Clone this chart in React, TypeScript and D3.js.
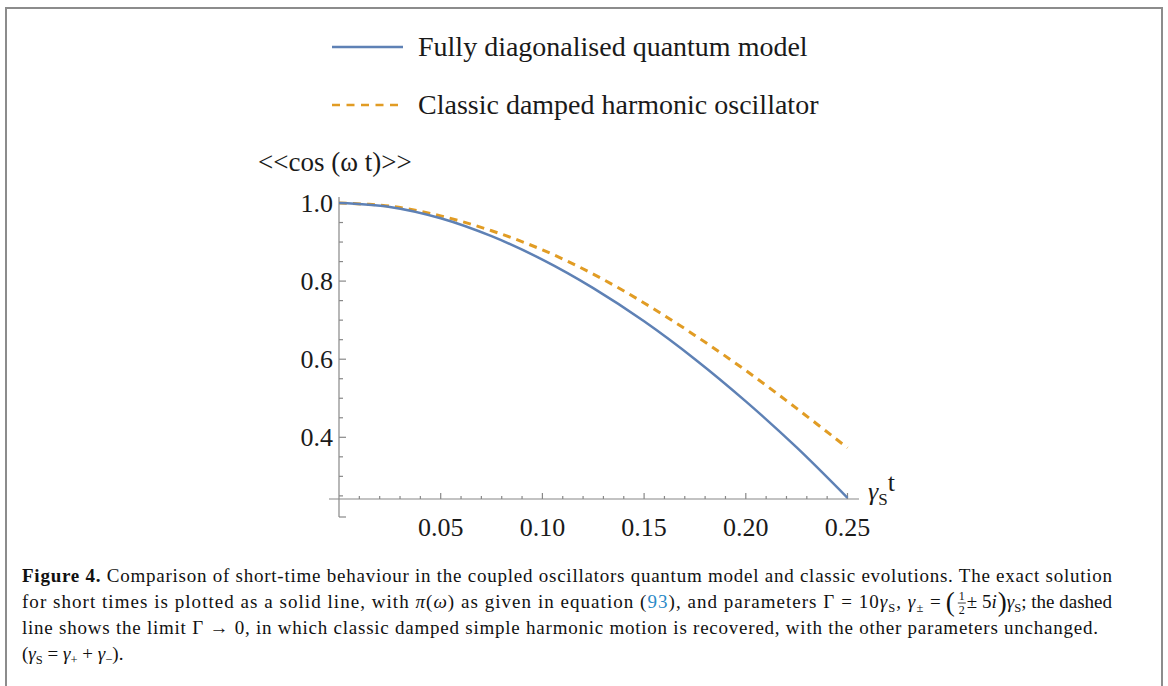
import React, {useEffect, useRef} from 'react'
import * as d3 from 'd3';

// time axis (gamma_S t) and the two curves
const times = [0, 0.025, 0.05, 0.075, 0.1, 0.125, 0.15, 0.175, 0.2, 0.225, 0.25];
const quantumValues = [1.0, 0.990, 0.961, 0.915, 0.855, 0.782, 0.697, 0.600, 0.492, 0.374, 0.245];
const classicValues = [1.0, 0.992, 0.967, 0.929, 0.880, 0.818, 0.744, 0.661, 0.571, 0.474, 0.373];

const xMajorTicks = [0.05, 0.10, 0.15, 0.20, 0.25];
const xTickLabels = ['0.05', '0.10', '0.15', '0.20', '0.25'];
const yMajorTicks = [0.4, 0.6, 0.8, 1.0];
const yTickLabels = ['0.4', '0.6', '0.8', '1.0'];

const legendLabels = ['Fully diagonalised quantum model', 'Classic damped harmonic oscillator'];

const BLUE = '#5e81b5';
const ORANGE = '#e19c24';
const AXIS = '#888888';
const SERIF = '"Liberation Serif", "Times New Roman", serif';

type Seg = {t: string, italic?: boolean, sub?: boolean, color?: string, bold?: boolean};

// appends a run of text made of segments (subscripts as smaller, lowered tspans)
function addRun(parent: any, x: number, y: number, segs: Seg[]){
    const txt = parent.append('text').attr('x', x).attr('y', y);
    let lowered = false;
    segs.forEach(s => {
        const ts = txt.append('tspan').text(s.t);
        if (s.italic) ts.attr('font-style', 'italic');
        if (s.bold) ts.attr('font-weight', 'bold');
        if (s.color) ts.attr('fill', s.color);
        if (s.sub){
            ts.attr('font-size', 12.5);
            if (!lowered) ts.attr('dy', 4);
            lowered = true;
        } else if (lowered){
            ts.attr('dy', -4);
            lowered = false;
        }
    });
    return txt;
}

export default function App(){
    const svgRef = useRef<SVGSVGElement>(null);

    useEffect(() => {
        const svg = d3.select(svgRef.current);
        svg.selectAll('*').remove();

        const x = d3.scaleLinear().domain([0, 0.25]).range([339, 847.5]);
        const y = d3.scaleLinear().domain([0.242, 1.0]).range([499, 203]);

        // figure frame
        svg.append('rect')
            .attr('x', 6).attr('y', 8)
            .attr('width', 1156).attr('height', 700)
            .attr('fill', 'none')
            .attr('stroke', '#8c8c8c')
            .attr('stroke-width', 2);

        // legend
        const legend = svg.append('g').attr('font-family', SERIF).attr('font-size', 28).attr('fill', '#1a1a1a');
        legend.append('line')
            .attr('x1', 332).attr('x2', 403).attr('y1', 47).attr('y2', 47)
            .attr('stroke', BLUE).attr('stroke-width', 2.5);
        legend.append('line')
            .attr('x1', 332).attr('x2', 398).attr('y1', 105).attr('y2', 105)
            .attr('stroke', ORANGE).attr('stroke-width', 2.5)
            .attr('stroke-dasharray', '8,6.5');
        legend.selectAll('text')
            .data(legendLabels)
            .join('text')
            .attr('x', 418)
            .attr('y', (d, i) => i === 0 ? 56 : 114)
            .text(d => d);

        // y axis title
        svg.append('text')
            .attr('x', 258).attr('y', 171)
            .attr('font-family', SERIF).attr('font-size', 27).attr('fill', '#1a1a1a')
            .text('<<cos (\u03c9 t)>>');

        // axes lines
        const axes = svg.append('g').attr('stroke', AXIS).attr('stroke-width', 1.2);
        axes.append('line').attr('x1', 339).attr('x2', 339).attr('y1', 197).attr('y2', 517);
        axes.append('line').attr('x1', 339).attr('x2', 346).attr('y1', 517).attr('y2', 517);
        axes.append('line').attr('x1', 329).attr('x2', 859).attr('y1', 499).attr('y2', 499);

        // y ticks (inward, Mathematica style)
        const yMinor = d3.range(0.25, 0.999, 0.05).filter(v => !yMajorTicks.some(m => Math.abs(m - v) < 1e-6));
        axes.selectAll('.ymin').data(yMinor).join('line')
            .attr('x1', 339).attr('x2', 343)
            .attr('y1', d => y(d)).attr('y2', d => y(d));
        axes.selectAll('.ymaj').data(yMajorTicks).join('line')
            .attr('x1', 339).attr('x2', 346)
            .attr('y1', d => y(d)).attr('y2', d => y(d));

        // x ticks
        const xMinor = d3.range(1, 26).map(i => i / 100).filter(v => !xMajorTicks.some(m => Math.abs(m - v) < 1e-6));
        axes.selectAll('.xmin').data(xMinor).join('line')
            .attr('x1', d => x(d)).attr('x2', d => x(d))
            .attr('y1', 499).attr('y2', 496);
        axes.selectAll('.xmaj').data(xMajorTicks).join('line')
            .attr('x1', d => x(d)).attr('x2', d => x(d))
            .attr('y1', 499).attr('y2', 493);

        // tick labels
        const labels = svg.append('g').attr('font-family', SERIF).attr('font-size', 26).attr('fill', '#1a1a1a');
        labels.selectAll('.yl').data(yMajorTicks).join('text')
            .attr('x', 333).attr('y', d => y(d) + 9)
            .attr('text-anchor', 'end')
            .text((d, i) => yTickLabels[i]);
        labels.selectAll('.xl').data(xMajorTicks).join('text')
            .attr('x', d => x(d)).attr('y', 536)
            .attr('text-anchor', 'middle')
            .text((d, i) => xTickLabels[i]);

        // x axis title  gamma_S t
        const xt = svg.append('text')
            .attr('x', 868).attr('y', 500)
            .attr('font-family', SERIF).attr('font-size', 26).attr('fill', '#1a1a1a');
        xt.append('tspan').attr('font-style', 'italic').text('\u03b3');
        xt.append('tspan').attr('font-size', 17).attr('dy', 5).text('S');
        xt.append('tspan').attr('dy', -14).text('t');

        // curves
        const line = d3.line<number>()
            .x((d, i) => x(times[i]))
            .y(d => y(d))
            .curve(d3.curveCatmullRom);

        svg.append('path')
            .attr('d', line(classicValues))
            .attr('fill', 'none')
            .attr('stroke', ORANGE)
            .attr('stroke-width', 3)
            .attr('stroke-dasharray', '8,6');

        svg.append('path')
            .attr('d', line(quantumValues))
            .attr('fill', 'none')
            .attr('stroke', BLUE)
            .attr('stroke-width', 2.5);

        // caption
        const cap = svg.append('g').attr('font-family', SERIF).attr('font-size', 19).attr('fill', '#111');
        const left = 22, right = 1112;
        const base = [582, 608, 634, 660];

        addRun(cap, left, base[0], [
            {t: 'Figure 4. ', bold: true},
            {t: 'Comparison of short-time behaviour in the coupled oscillators quantum model and classic evolutions. The exact solution'},
        ]).attr('textLength', right - left).attr('lengthAdjust', 'spacing');

        // line 2: right-hand cluster measured first, then left part stretched to meet it
        const rc = cap.append('g');
        const parenL = rc.append('text').attr('y', base[1] + 3).attr('font-size', 27).text('(');
        const frac = rc.append('g');
        frac.append('text').attr('x', 0).attr('y', base[1] - 8).attr('font-size', 12).attr('text-anchor', 'middle').text('1');
        frac.append('line').attr('x1', -4).attr('x2', 4).attr('y1', base[1] - 5).attr('y2', base[1] - 5).attr('stroke', '#111').attr('stroke-width', 0.8);
        frac.append('text').attr('x', 0).attr('y', base[1] + 6).attr('font-size', 12).attr('text-anchor', 'middle').text('2');
        const pm = addRun(rc, 0, base[1], [{t: ' \u00b1 5'}, {t: 'i', italic: true}]);
        const parenR = rc.append('text').attr('y', base[1] + 3).attr('font-size', 27).text(')');
        const tail = addRun(rc, 0, base[1], [{t: '\u03b3', italic: true}, {t: 'S', sub: true}, {t: '; the dashed'}]);

        const wParen = (parenL.node() as SVGTextElement).getComputedTextLength();
        const wPm = (pm.node() as SVGTextElement).getComputedTextLength();
        const wTail = (tail.node() as SVGTextElement).getComputedTextLength();
        const wFrac = 10;
        const total = wParen + 2 + wFrac + wPm + 1 + wParen + wTail;
        let cx = right - total;
        const startRight = cx;
        parenL.attr('x', cx); cx += wParen + 2;
        frac.attr('transform', `translate(${cx + wFrac / 2},0)`); cx += wFrac;
        pm.attr('x', cx); cx += wPm + 1;
        parenR.attr('x', cx); cx += wParen;
        tail.attr('x', cx);

        addRun(cap, left, base[1], [
            {t: 'for short times is plotted as a solid line, with '},
            {t: '\u03c0', italic: true}, {t: '('}, {t: '\u03c9', italic: true},
            {t: ') as given in equation ('}, {t: '93', color: '#2a8ac8'},
            {t: '), and parameters \u0393 = 10'}, {t: '\u03b3', italic: true}, {t: 'S', sub: true},
            {t: ', '}, {t: '\u03b3', italic: true}, {t: '\u00b1', sub: true}, {t: ' ='},
        ]).attr('textLength', startRight - 5 - left).attr('lengthAdjust', 'spacing');

        addRun(cap, left, base[2], [
            {t: 'line shows the limit \u0393 \u2192 0, in which classic damped simple harmonic motion is recovered, with the other parameters unchanged.'},
        ]).attr('textLength', 1098 - left).attr('lengthAdjust', 'spacing');

        addRun(cap, left, base[3], [
            {t: '('}, {t: '\u03b3', italic: true}, {t: 'S', sub: true}, {t: ' = '},
            {t: '\u03b3', italic: true}, {t: '+', sub: true}, {t: ' + '},
            {t: '\u03b3', italic: true}, {t: '\u2212', sub: true}, {t: ').'},
        ]);
    }, []);

    return (
        <svg
            ref={svgRef}
            width={1168}
            height={686}
            style={{position: 'absolute', left: 0, top: 0, background: '#fff'}}
        />
    );
}
